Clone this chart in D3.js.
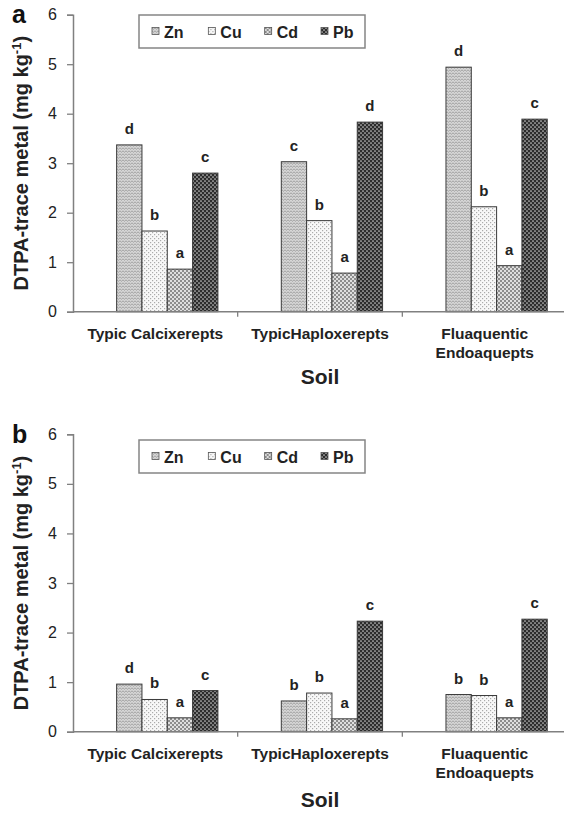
<!DOCTYPE html>
<html>
<head>
<meta charset="utf-8">
<script src="https://cdn.jsdelivr.net/npm/d3@7"></script>
<style>
  html, body { margin: 0; padding: 0; background: #fff; }
  svg { display: block; font-family: "Liberation Sans", Arial, sans-serif; }
</style>
</head>
<body>
<svg id="chart" width="564" height="813"></svg>
<script>
// ---------------- data ----------------
const categories = ["Typic Calcixerepts", "TypicHaploxerepts", "Fluaquentic Endoaquepts"];
const categoryLines = [["Typic Calcixerepts"], ["TypicHaploxerepts"], ["Fluaquentic", "Endoaquepts"]];
const metals = ["Zn", "Cu", "Cd", "Pb"];
const yTicks = [0, 1, 2, 3, 4, 5, 6];

// panel a
const znA = [3.37, 3.03, 4.94];
const cuA = [1.63, 1.84, 2.12];
const cdA = [0.86, 0.78, 0.93];
const pbA = [2.80, 3.83, 3.89];
const lettersA = [["d", "b", "a", "c"], ["c", "b", "a", "d"], ["d", "b", "a", "c"]];

// panel b
const znB = [0.96, 0.62, 0.75];
const cuB = [0.65, 0.78, 0.73];
const cdB = [0.28, 0.26, 0.28];
const pbB = [0.83, 2.23, 2.27];
const lettersB = [["d", "b", "a", "c"], ["b", "b", "a", "c"], ["b", "b", "a", "c"]];

// ---------------- drawing ----------------
const svg = d3.select("#chart");
const defs = svg.append("defs");

(function makePatterns() {
  // Zn: light gray with fine horizontal wavy lines
  const zn = defs.append("pattern").attr("id", "pat-Zn").attr("patternUnits", "userSpaceOnUse")
    .attr("width", 6).attr("height", 3);
  zn.append("rect").attr("width", 6).attr("height", 3).attr("fill", "#d6d6d6");
  zn.append("path").attr("d", "M0 0.8 L1.5 2.2 L3 0.8 L4.5 2.2 L6 0.8").attr("fill", "none")
    .attr("stroke", "#858585").attr("stroke-width", 0.7);

  // Cu: white with sparse light-gray dots
  const cu = defs.append("pattern").attr("id", "pat-Cu").attr("patternUnits", "userSpaceOnUse")
    .attr("width", 4).attr("height", 4);
  cu.append("rect").attr("width", 4).attr("height", 4).attr("fill", "#f8f8f8");
  cu.append("rect").attr("x", 0).attr("y", 0).attr("width", 1.2).attr("height", 1.2).attr("fill", "#ababab");
  cu.append("rect").attr("x", 2).attr("y", 2).attr("width", 1.2).attr("height", 1.2).attr("fill", "#ababab");

  // Cd: medium gray checker dots
  const cd = defs.append("pattern").attr("id", "pat-Cd").attr("patternUnits", "userSpaceOnUse")
    .attr("width", 4).attr("height", 4);
  cd.append("rect").attr("width", 4).attr("height", 4).attr("fill", "#dedede");
  cd.append("rect").attr("x", 0).attr("y", 0).attr("width", 2).attr("height", 2).attr("fill", "#8c8c8c");
  cd.append("rect").attr("x", 2).attr("y", 2).attr("width", 2).attr("height", 2).attr("fill", "#8c8c8c");

  // Pb: dark with light dots
  const pb = defs.append("pattern").attr("id", "pat-Pb").attr("patternUnits", "userSpaceOnUse")
    .attr("width", 4).attr("height", 4);
  pb.append("rect").attr("width", 4).attr("height", 4).attr("fill", "#2c2c2c");
  pb.append("circle").attr("cx", 1).attr("cy", 1).attr("r", 0.85).attr("fill", "#c8c8c8");
  pb.append("circle").attr("cx", 3).attr("cy", 3).attr("r", 0.85).attr("fill", "#c8c8c8");
})();

const x = d3.scaleBand().domain(categories).range([73, 567]).padding(0);
const bw = x.bandwidth();
const xInner = d3.scaleBand().domain(metals).range([bw * 0.265, bw * 0.88]).padding(0);

const axisColor = "#808080";

function drawPanel(cfg) {
  const { top, bottom, series, letters, panelLabel, legendTop, soilOffset } = cfg;
  const g = svg.append("g");
  const y = d3.scaleLinear().domain([0, 6]).range([bottom, top]);

  // y axis
  const yAxis = d3.axisLeft(y).tickValues(yTicks).tickSize(6).tickPadding(10).tickFormat(d3.format("d"));
  const ya = g.append("g").attr("transform", `translate(${x.range()[0]},0)`).call(yAxis);
  ya.select(".domain").attr("stroke", axisColor).attr("stroke-width", 1.5);
  ya.selectAll(".tick line").attr("stroke", axisColor).attr("stroke-width", 1.3);
  ya.selectAll(".tick text").attr("font-size", 16).attr("fill", "#222")
    .attr("font-family", "Liberation Sans, Arial, sans-serif");

  // bars
  const data = [];
  categories.forEach((c, ci) => {
    metals.forEach((m, mi) => {
      data.push({ c, m, v: series[m][ci], letter: letters[ci][mi] });
    });
  });
  g.selectAll("rect.bar").data(data).enter().append("rect")
    .attr("class", "bar")
    .attr("x", d => x(d.c) + xInner(d.m))
    .attr("width", xInner.bandwidth())
    .attr("y", d => y(d.v))
    .attr("height", d => y(0) - y(d.v))
    .attr("fill", d => `url(#pat-${d.m})`)
    .attr("stroke", "#3a3a3a")
    .attr("stroke-width", 1);

  g.selectAll("text.sig").data(data).enter().append("text")
    .attr("class", "sig")
    .attr("x", d => x(d.c) + xInner(d.m) + xInner.bandwidth() / 2)
    .attr("y", d => y(d.v) - 11)
    .attr("text-anchor", "middle")
    .attr("font-size", 15).attr("font-weight", "bold").attr("fill", "#222")
    .text(d => d.letter);

  // x axis
  const xAxis = g.append("g");
  xAxis.append("line").attr("x1", x.range()[0]).attr("x2", x.range()[1])
    .attr("y1", y(0)).attr("y2", y(0)).attr("stroke", axisColor).attr("stroke-width", 1.5);
  xAxis.selectAll("line.xt").data(categories.slice(1)).enter().append("line")
    .attr("class", "xt")
    .attr("x1", d => x(d)).attr("x2", d => x(d))
    .attr("y1", y(0)).attr("y2", y(0) + 5)
    .attr("stroke", axisColor).attr("stroke-width", 1.3);
  categories.forEach((c, ci) => {
    const t = xAxis.append("text")
      .attr("x", x(c) + bw / 2)
      .attr("y", y(0) + 27)
      .attr("text-anchor", "middle")
      .attr("font-size", 15.5).attr("font-weight", "bold").attr("fill", "#222");
    categoryLines[ci].forEach((line, li) => {
      t.append("tspan").attr("x", x(c) + bw / 2).attr("dy", li === 0 ? 0 : 19.5).text(line);
    });
  });

  // x title
  g.append("text").attr("x", (x.range()[0] + x.range()[1]) / 2).attr("y", y(0) + soilOffset)
    .attr("text-anchor", "middle").attr("font-size", 21).attr("font-weight", "bold").attr("fill", "#222")
    .text("Soil");

  // y title
  const yt = g.append("text")
    .attr("transform", `translate(28,${(top + bottom) / 2}) rotate(-90)`)
    .attr("text-anchor", "middle").attr("font-size", 20).attr("font-weight", "bold").attr("fill", "#222");
  yt.append("tspan").text("DTPA-trace metal (mg kg");
  yt.append("tspan").attr("font-size", 13).attr("baseline-shift", "55%").text("-1");
  yt.append("tspan").text(")");

  // panel letter
  g.append("text").attr("x", 12).attr("y", top + 8.5)
    .attr("font-size", 25).attr("font-weight", "bold").attr("fill", "#111").text(panelLabel);

  // legend
  const lg = g.append("g").attr("transform", `translate(139,${legendTop})`);
  lg.append("rect").attr("width", 226).attr("height", 33).attr("fill", "#fff")
    .attr("stroke", "#858585").attr("stroke-width", 1.5);
  const lx = d3.scalePoint().domain(metals).range([13, 182]);
  const items = lg.selectAll("g.item").data(metals).enter().append("g").attr("class", "item")
    .attr("transform", d => `translate(${lx(d)},0)`);
  items.append("rect").attr("y", 12.5).attr("width", 7).attr("height", 7)
    .attr("fill", d => `url(#pat-${d})`).attr("stroke", "#555").attr("stroke-width", 0.8);
  items.append("text").attr("x", 12).attr("y", 22.5)
    .attr("font-size", 16).attr("font-weight", "bold").attr("fill", "#222").text(d => d);
}

drawPanel({
  top: 14.7, bottom: 311.7,
  series: { Zn: znA, Cu: cuA, Cd: cdA, Pb: pbA },
  letters: lettersA, panelLabel: "a", legendTop: 15, soilOffset: 72
});
drawPanel({
  top: 434.3, bottom: 731.7,
  series: { Zn: znB, Cu: cuB, Cd: cdB, Pb: pbB },
  letters: lettersB, panelLabel: "b", legendTop: 440, soilOffset: 75
});
</script>
</body>
</html>
